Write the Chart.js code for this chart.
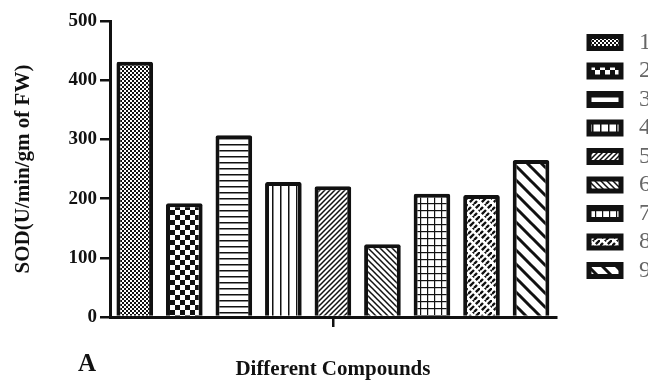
<!DOCTYPE html>
<html>
<head>
  <meta charset="UTF-8">
  <title>SOD - Different Compounds</title>
  <script src="https://cdn.jsdelivr.net/npm/chart.js"></script>
  <style>
    body {
      margin: 0;
      padding: 0;
      background-color: white;
      overflow: hidden;
    }
    #marco {
      width: 661px;
      height: 380px;
    }
  </style>
</head>
<body>
  <div id="marco"><canvas id="grafica"></canvas></div>

  <script type="text/javascript">
    // datos
    const compuestos = ['1', '2', '3', '4', '5', '6', '7', '8', '9'];
    const valoresSOD = [431, 192, 307, 228, 221, 123, 208, 206, 265];
    const yMin = 0;
    const yMax = 500;
    const yPaso = 100;

    const serif = '"Liberation Serif", "Times New Roman", serif';
    const negro = '#111';

    // tramas en blanco y negro
    function trama(w, h, dibujar) {
      const c = document.createElement('canvas');
      c.width = w;
      c.height = h;
      const g = c.getContext('2d');
      g.fillStyle = '#fff';
      g.fillRect(0, 0, w, h);
      g.fillStyle = negro;
      g.strokeStyle = negro;
      dibujar(g, w, h);
      return g.createPattern(c, 'repeat');
    }

    function diagonalSube(g, s, ancho) {
      g.lineWidth = ancho;
      g.beginPath();
      [0, s, 2 * s].forEach(function(c) {
        g.moveTo(c + 1, -1);
        g.lineTo(c - s - 1, s + 1);
      });
      g.stroke();
    }

    function diagonalBaja(g, s, ancho) {
      g.lineWidth = ancho;
      g.beginPath();
      [-s, 0, s].forEach(function(c) {
        g.moveTo(c - 1, -1);
        g.lineTo(c + s + 1, s + 1);
      });
      g.stroke();
    }

    // ladrillos diagonales (trazos / cortados y desplazados)
    function ladrillos(g) {
      const per = 6 * Math.SQRT2;
      g.lineWidth = 2.4;
      g.lineCap = 'butt';
      g.setLineDash([per - 2.6, 2.6]);
      g.lineDashOffset = 0;
      g.beginPath();
      g.moveTo(12, 0); g.lineTo(0, 12);
      g.stroke();
      g.lineDashOffset = per / 2;
      g.beginPath();
      g.moveTo(6, 0); g.lineTo(0, 6);
      g.moveTo(12, 6); g.lineTo(6, 12);
      g.stroke();
    }

    const tramas = [
      trama(4, 4, function(g) { g.fillRect(0, 0, 2, 2); g.fillRect(2, 2, 2, 2); }),
      trama(10, 10, function(g) { g.fillRect(0, 0, 5, 5); g.fillRect(5, 5, 5, 5); }),
      trama(4, 6, function(g, w) { g.fillRect(0, 0, w, 1.5); }),
      trama(8, 4, function(g, w, h) { g.fillRect(0, 0, 1.5, h); }),
      trama(5, 5, function(g, s) { diagonalSube(g, s, 1.5); }),
      trama(6, 6, function(g, s) { diagonalBaja(g, s, 1.5); }),
      trama(7, 7, function(g, s) { g.fillRect(0, 0, s, 1.2); g.fillRect(0, 0, 1.2, s); }),
      trama(12, 12, ladrillos),
      trama(14, 14, function(g, s) { diagonalBaja(g, s, 3); })
    ];

    const etiquetaA = {
      id: 'etiquetaA',
      afterDraw: function(chart) {
        const ctx = chart.ctx;
        ctx.save();
        ctx.font = 'bold 25px ' + serif;
        ctx.fillStyle = negro;
        ctx.textAlign = 'center';
        ctx.textBaseline = 'middle';
        ctx.fillText('A', 87, 365);
        ctx.restore();
      }
    };

    const ctx = document.getElementById('grafica').getContext('2d');
    const mitad = Math.floor(compuestos.length / 2);

    new Chart(ctx, {
      type: 'bar',
      data: {
        labels: compuestos,
        datasets: [{
          label: 'SOD',
          data: valoresSOD,
          backgroundColor: tramas,
          borderColor: negro,
          borderWidth: 4,
          borderRadius: 2,
          barPercentage: 0.74,
          categoryPercentage: 1
        }]
      },
      options: {
        responsive: true,
        maintainAspectRatio: false,
        animation: false,
        layout: {
          padding: { top: 21, left: 0, right: 0, bottom: 0 }
        },
        scales: {
          x: {
            z: 1,
            grid: {
              display: true,
              drawOnChartArea: false,
              offset: false,
              tickLength: 10,
              lineWidth: 2.5,
              color: function(c) { return c.index === mitad ? negro : 'rgba(0,0,0,0)'; }
            },
            border: { display: true, color: negro, width: 3 },
            ticks: { display: false },
            title: {
              display: true,
              text: 'Different Compounds',
              color: negro,
              font: { family: serif, size: 21, weight: 'bold', lineHeight: 1 },
              padding: { top: 0, bottom: 0 }
            },
            afterFit: function(s) { s.height = 63; }
          },
          y: {
            z: 1,
            min: yMin,
            max: yMax,
            ticks: {
              stepSize: yPaso,
              padding: 3,
              color: negro,
              font: { family: serif, size: 19, weight: 'bold' }
            },
            grid: {
              drawOnChartArea: false,
              tickLength: 10,
              lineWidth: 2.5,
              color: negro
            },
            border: { display: true, color: negro, width: 3 },
            title: {
              display: true,
              text: 'SOD(U/min/gm of FW)',
              color: negro,
              font: { family: serif, size: 21, weight: 'bold', lineHeight: 1 },
              padding: { top: 13.5, bottom: 0 }
            },
            afterFit: function(s) { s.width = 110; }
          },
          derecha: {
            type: 'linear',
            position: 'right',
            display: true,
            grid: { display: false, drawTicks: false },
            border: { display: false },
            ticks: { display: false },
            afterFit: function(s) { s.width = 28.7; }
          }
        },
        plugins: {
          tooltip: { enabled: false },
          legend: {
            position: 'right',
            align: 'start',
            title: {
              display: true,
              text: '',
              font: { size: 5, lineHeight: 1 },
              padding: 0
            },
            labels: {
              boxWidth: 32,
              boxHeight: 12,
              padding: 4.5,
              color: '#222',
              font: { family: serif, size: 24 },
              generateLabels: function(chart) {
                return chart.data.labels.map(function(l, i) {
                  return {
                    text: ' ' + l,
                    fillStyle: tramas[i],
                    strokeStyle: negro,
                    lineWidth: 5,
                    hidden: false,
                    index: i,
                    datasetIndex: 0
                  };
                });
              }
            }
          }
        }
      },
      plugins: [etiquetaA]
    });
  </script>
</body>
</html>
